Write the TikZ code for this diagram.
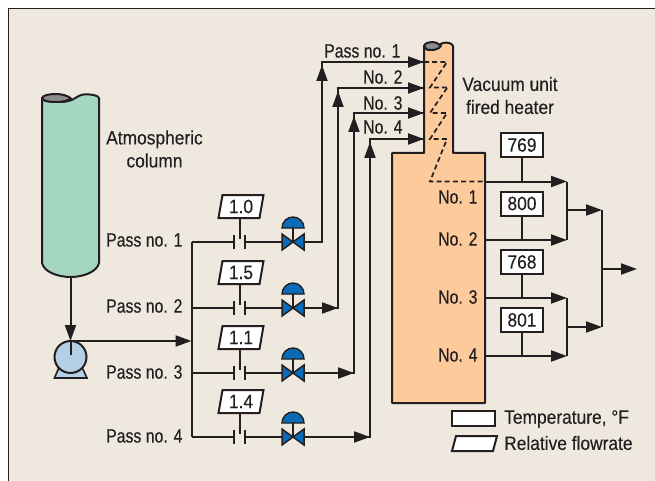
\documentclass[tikz,border=0pt]{standalone}
\usepackage{fontspec}
\setmainfont[FakeStretch=0.82,FakeBold=0.25]{Liberation Sans}
\newfontfamily\widefont[FakeStretch=0.9,FakeBold=0.25]{Liberation Sans}
\usetikzlibrary{arrows.meta}
\definecolor{ink}{HTML}{231F20}
\definecolor{paper}{HTML}{EFE8DF}
\definecolor{colgreen}{HTML}{A5D6C1}
\definecolor{heater}{HTML}{FDCB9B}
\definecolor{pumpblue}{HTML}{B3D0E6}
\definecolor{valveblue}{HTML}{0A6CB8}
\definecolor{capgray}{HTML}{8A8C8E}
\tikzset{
  pipe/.style={draw=ink,line width=2pt,line join=miter},
  head/.style={pipe,-{Triangle[length=16pt,width=11pt]}},
  hull/.style={draw=ink,line width=2pt,line join=round},
  dashline/.style={draw=ink,line width=1.7pt,dash pattern=on 5pt off 3.2pt},
  lbl/.style={font=\fontsize{19.3}{22}\selectfont,text=ink,inner sep=0pt,align=center},
  widelbl/.style={font=\widefont\fontsize{19.3}{22}\selectfont,text=ink,inner sep=0pt,align=center},
  tempbox/.style={draw=ink,fill=white,line width=2pt,minimum width=42pt,minimum height=24pt,inner sep=0pt,font=\widefont\fontsize{19.3}{22}\selectfont,text=ink},
  flowbox/.pic={
    \draw[draw=ink,fill=white,line width=2pt,line join=miter]
      (-17.5,-11.5) -- (23.5,-11.5) -- (19.5,11.5) -- (-21.5,11.5) -- cycle;
    \coordinate (-s) at (0,11.5);
  },
  valve/.pic={
    \draw[draw=ink,fill=valveblue,line width=1.5pt,line join=miter]
      (-11,-8) -- (0,0) -- (-11,8) -- cycle (11,-8) -- (0,0) -- (11,8) -- cycle;
    \draw[draw=ink,line width=1.8pt] (0,0) -- (0,-14);
    \draw[draw=ink,fill=valveblue,line width=1.4pt] (-11,-14) arc[start angle=180,end angle=0,x radius=11,y radius=-11] -- cycle;
    \coordinate (-l) at (-11,0);
    \coordinate (-r) at (11,0);
  }
}
\begin{document}
\begin{tikzpicture}[x=1pt,y=-1pt]
\useasboundingbox (0,0) rectangle (655,481);
\fill[paper] (8.5,8.5) rectangle (655,481);
\draw[ink,line width=1.3pt] (8.5,481) -- (8.5,8.5) -- (655,8.5);

% atmospheric column
\path[hull,fill=colgreen] (42,98) -- (42,263)
  .. controls (44,272) and (58,277) .. (70.5,277)
  .. controls (83,277) and (97,272) .. (99,263)
  -- (99,98) .. controls (98,95) and (90,94) .. (84,94.5)
  .. controls (76,95) and (75,102) .. (60,102)
  .. controls (50,102) and (42,101) .. (42,98) -- cycle;
\path[hull,fill=capgray] (42,98) .. controls (43,95) and (50,94) .. (56,94)
  .. controls (63,94) and (68,96) .. (71,98.5)
  .. controls (67,101) and (62,102) .. (56,102)
  .. controls (49,102) and (43,101) .. (42,98) -- cycle;
\node[widelbl] (atm) at (154.5,149) {Atmospheric\\[1pt]column};

% fired heater
\path[hull,fill=heater] (424,46) -- (424,153) -- (392,153) -- (392,403) -- (485,403) -- (485,153) -- (453,153) -- (453,46)
  .. controls (452,43) and (447,42) .. (443,43)
  .. controls (438,44) and (437,50) .. (431,50)
  .. controls (427,50) and (424,49) .. (424,46) -- cycle;
\path[hull,fill=capgray] (424,46) .. controls (425,43) and (429,42) .. (432,42)
  .. controls (436,42) and (439,44) .. (441,46)
  .. controls (439,49) and (435,50) .. (431,50)
  .. controls (427,50) and (425,49) .. (424,46) -- cycle;
\node[widelbl] (vac) at (510,95.5) {Vacuum unit\\[1pt]fired heater};

% coil
\coordinate (in1) at (424,62);
\coordinate (in2) at (424,88);
\coordinate (in3) at (424,113);
\coordinate (in4) at (424,139);
\coordinate (o1) at (485,181.5);
\coordinate (o2) at (485,240);
\coordinate (o3) at (485,298);
\coordinate (o4) at (485,356);
\draw[dashline] (in1) -- (447,62) -- (430,87.5) -- (447,87.5);
\draw[dashline] (447,88) -- (430,113) -- (447,113) -- (430,139) -- (447,139) -- (430,181.5) -- (o1);

% pump
\coordinate (colb) at (70.5,277);
\coordinate (ptop) at (70.5,341);
\coordinate (man) at (191.5,341);
\path[draw=ink,fill=pumpblue,line width=1.6pt,line join=miter] (60,365) -- (54.5,378) -- (87,378) -- (81,365) -- cycle;
\node[circle,draw=ink,fill=pumpblue,line width=2pt,minimum size=32pt,inner sep=0pt] (pump) at (70.5,357) {};
\draw[pipe] (70.5,355) -- (ptop);
\draw[head] (colb) -- (ptop);
\draw[head] (ptop) -- (man);

% manifold and passes
\coordinate (m1) at (191.5,242);
\coordinate (m2) at (191.5,308);
\coordinate (m3) at (191.5,373);
\coordinate (m4) at (191.5,437);
\draw[pipe] (m1) -- (m4);
\foreach \n/\y/\val/\xr/\ytop in {1/242/1.0/322/62,2/308/1.5/338/88,3/373/1.1/354/113,4/437/1.4/370/139}{
  \pic (v\n) at (293,\y) {valve};
  \pic (f\n) at (240,\y-35.5) {flowbox};
  \node[font=\widefont\fontsize{19.3}{22}\selectfont,text=ink,inner sep=0pt] (ft\n) at (241,\y-35.5) {\val};
  \coordinate (pl\n) at (234,\y);
  \coordinate (pr\n) at (245,\y);
  \draw[pipe] (m\n) -- (pl\n);
  \draw[draw=ink,line width=2pt] (234,\y-7) -- (234,\y+7);
  \draw[draw=ink,line width=2pt] (245,\y-7) -- (245,\y+7);
  \draw[pipe] (f\n-s) -- (240,\y-3);
  \draw[pipe] (pr\n) -- (v\n-l);
  \draw[pipe] (v\n-r) -- (\xr,\y) -- (\xr,\ytop) -- (in\n);
  \draw[head] (\xr,\ytop+30) -- (\xr,\ytop+3);
  \draw[head] (\xr,\ytop) -- (in\n);
}
\draw[head] (v2-r) -- (338,308);
\draw[head] (v3-r) -- (354,373);
\draw[head] (v4-r) -- (370,437);

% labels
\node[lbl,anchor=west] (p1) at (106,240) {Pass no. 1};
\node[lbl,anchor=west] (p2) at (106,306) {Pass no. 2};
\node[lbl,anchor=west] (p3) at (106,372) {Pass no. 3};
\node[lbl,anchor=west] (p4) at (106,436) {Pass no. 4};
\node[lbl,anchor=west] (i1) at (324,51) {Pass no. 1};
\node[lbl,anchor=west] (i2) at (363,77) {No. 2};
\node[lbl,anchor=west] (i3) at (363,103) {No. 3};
\node[lbl,anchor=west] (i4) at (363,127) {No. 4};
\node[lbl,anchor=west] (h1) at (438,197) {No. 1};
\node[lbl,anchor=west] (h2) at (438,239) {No. 2};
\node[lbl,anchor=west] (h3) at (438,297) {No. 3};
\node[lbl,anchor=west] (h4) at (438,355) {No. 4};

% outlets
\coordinate (j1) at (567,181.5);
\coordinate (j2) at (567,240);
\coordinate (j3) at (567,298);
\coordinate (j4) at (567,356);
\coordinate (k1) at (602,210);
\coordinate (k2) at (602,327);
\coordinate (out) at (637,269);
\draw[head] (o1) -- (j1);
\draw[pipe] (j1) -- (j2);
\draw[head] (o2) -- (j2);
\draw[head] (o3) -- (j3);
\draw[pipe] (j3) -- (j4);
\draw[head] (o4) -- (j4);
\draw[head] (567,210) -- (k1);
\draw[head] (567,327) -- (k2);
\draw[pipe] (k1) -- (k2);
\draw[head] (602,269) -- (out);
\foreach \n/\y/\t/\yy in {1/145/769/181.5,2/203.5/800/240,3/262/768/298,4/320/801/356}{
  \node[tempbox] (t\n) at (522,\y) {\t};
  \draw[pipe] (t\n) -- (522,\yy);
}

% legend
\node[tempbox,minimum width=43pt,minimum height=15pt] (legt) at (473.5,418.5) {};
\path[draw=ink,fill=white,line width=2pt,line join=miter] (456,436) -- (497,436) -- (493,451) -- (452,451) -- cycle;
\node[widelbl,anchor=west] (legtt) at (504,419) {Temperature, °F};
\node[widelbl,anchor=west] (legft) at (504,443) {Relative flowrate};
\end{tikzpicture}
\end{document}
